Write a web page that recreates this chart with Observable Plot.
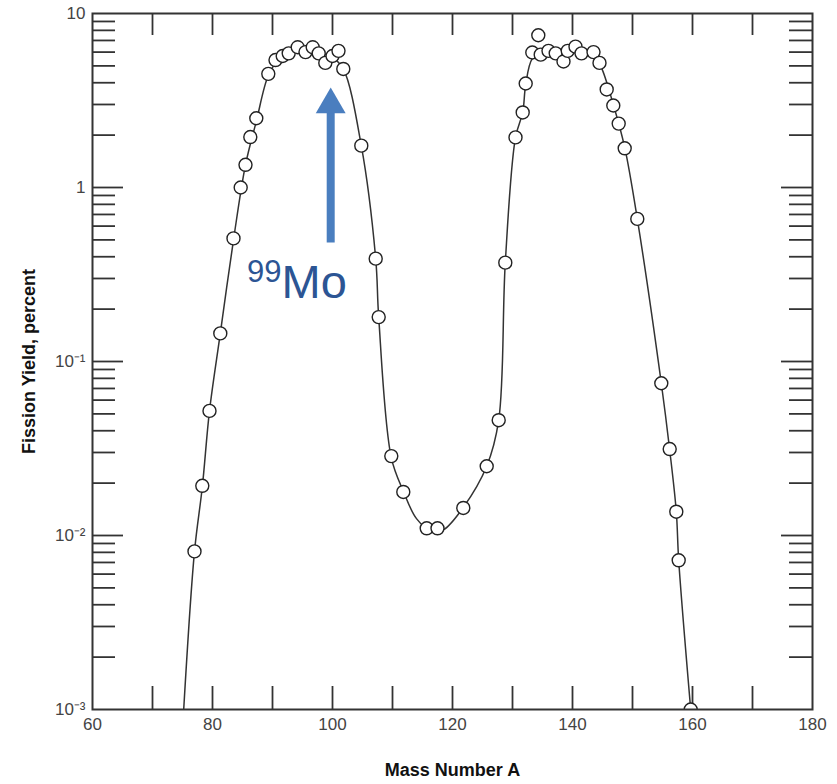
<!DOCTYPE html>
<html><head><meta charset="utf-8">
<script src="https://cdn.jsdelivr.net/npm/d3@7"></script>
<script src="https://cdn.jsdelivr.net/npm/@observablehq/plot@0.6"></script>
<style>html,body{margin:0;padding:0;background:#fff;} svg{display:block;}</style>
</head><body><div id="chart"></div>
<script>
// Measured fission yield points (mass number A, yield in percent)
const massNumber = [77.0, 78.3, 79.5, 81.3, 83.5, 84.7, 85.5, 86.3, 87.3, 89.3, 90.5, 91.7, 92.7, 94.2, 95.5, 96.7, 97.7, 98.8, 100.0, 101.0, 101.8, 104.8, 107.2, 107.7, 109.8, 111.8, 115.7, 117.5, 121.8, 125.7, 127.7, 128.8, 130.5, 131.7, 132.2, 133.3, 134.3, 134.7, 136.0, 137.2, 138.5, 139.2, 140.5, 141.5, 143.5, 144.5, 145.7, 146.8, 147.7, 148.7, 150.8, 154.8, 156.2, 157.3, 157.7, 159.7];
const yieldPct = [0.0081, 0.0193, 0.052, 0.145, 0.51, 1.0, 1.35, 1.95, 2.5, 4.5, 5.4, 5.7, 5.9, 6.4, 6.0, 6.4, 5.9, 5.2, 5.7, 6.1, 4.8, 1.74, 0.39, 0.18, 0.0286, 0.0178, 0.011, 0.011, 0.0144, 0.025, 0.046, 0.37, 1.94, 2.7, 3.96, 5.97, 7.5, 5.8, 6.1, 5.9, 5.3, 6.1, 6.45, 5.9, 6.0, 5.2, 3.66, 2.96, 2.33, 1.68, 0.66, 0.075, 0.0314, 0.0137, 0.0072, 0.001];

// Smooth fitted curve
const curveA = [75.2, 77.0, 78.3, 79.5, 81.3, 83.5, 85.5, 87.3, 89.3, 91.0, 93.0, 95.5, 98.0, 100.0, 101.8, 104.8, 107.2, 107.7, 109.8, 111.8, 114.0, 116.5, 118.5, 121.8, 125.7, 127.7, 128.8, 130.5, 131.7, 132.2, 133.3, 135.0, 138.0, 141.0, 143.5, 144.8, 146.8, 148.7, 150.8, 154.8, 156.2, 157.3, 157.7, 159.7];
const curveYield = [0.001, 0.0081, 0.019, 0.052, 0.145, 0.5, 1.35, 2.4, 4.4, 5.4, 5.95, 6.1, 5.95, 5.6, 4.8, 1.74, 0.39, 0.18, 0.028, 0.018, 0.0125, 0.0106, 0.0108, 0.0145, 0.025, 0.046, 0.37, 1.94, 2.7, 3.9, 5.5, 6.0, 5.9, 6.05, 5.8, 4.9, 3.0, 1.7, 0.66, 0.075, 0.031, 0.0137, 0.0072, 0.001];

// Axis ticks and labels
const xTickValues = [60, 80, 100, 120, 140, 160, 180];
const xInnerTicks = [70, 80, 90, 100, 110, 120, 130, 140, 150, 160, 170];
const yTickValues = [10, 1, 0.1, 0.01, 0.001];
const yTickLabels = ["10", "1", "10\u207B\u00B9", "10\u207B\u00B2", "10\u207B\u00B3"];
const yMajorTicks = [1, 0.1, 0.01];
const yDecades = [0.001, 0.01, 0.1, 1];
const yMinorMultipliers = [2, 3, 4, 5, 6, 7, 8, 9];
const xTitle = "Mass Number A";
const yTitle = "Fission Yield, percent";

// Annotation (arrow to 99Mo)
const annotIsotope = "99";
const annotElement = "Mo";
const arrowA = [99.7];
const arrowFrom = [0.483];
const arrowTo = [2.84];
const arrowHeadY = [2.99];
const labelA = [91.5];
const labelElementY = [0.284];
const labelIsotopeY = [0.325];

const points = massNumber.map((a, i) => ({a, y: yieldPct[i]}));
const curve = curveA.map((a, i) => ({a, y: curveYield[i]}));
const yMinorTicks = yDecades.flatMap(d => yMinorMultipliers.map(m => d * m));
const yLabelMap = new Map(yTickValues.map((v, i) => [v, yTickLabels[i]]));

const W = 837, H = 784, ML = 92, MR = 25, MT = 13, MB = 75;
const FW = W - ML - MR, FH = H - MT - MB;
const ink = "#333";
const blue = "#4a7ebf";
const blueText = "#2c5594";

const chart = Plot.plot({
  width: W, height: H,
  marginLeft: ML, marginRight: MR, marginTop: MT, marginBottom: MB,
  x: {domain: [60, 180]},
  y: {type: "log", domain: [0.001, 10]},
  style: {fontFamily: "'Liberation Sans', Arial, Helvetica, sans-serif", background: "white"},
  marks: [
    Plot.tickY(yMajorTicks, {y: d => d, insetRight: FW - 31, stroke: ink, strokeWidth: 1.8}),
    Plot.tickY(yMajorTicks, {y: d => d, insetLeft: FW - 31, stroke: ink, strokeWidth: 1.8}),
    Plot.tickY(yMinorTicks, {y: d => d, insetRight: FW - 23, stroke: ink, strokeWidth: 1.8}),
    Plot.tickY(yMinorTicks, {y: d => d, insetLeft: FW - 23, stroke: ink, strokeWidth: 1.8}),
    Plot.tickX(xInnerTicks, {x: d => d, insetTop: FH - 23, stroke: ink, strokeWidth: 1.8}),
    Plot.tickX(xInnerTicks, {x: d => d, insetBottom: FH - 22, stroke: ink, strokeWidth: 1.8}),
    Plot.line(curve, {x: "a", y: "y", curve: "catmull-rom", stroke: ink, strokeWidth: 1.5, clip: true}),
    Plot.dot(points, {x: "a", y: "y", r: 6.5, fill: "white", stroke: "#222", strokeWidth: 1.4, clip: true}),
    Plot.frame({stroke: ink, strokeWidth: 2}),
    Plot.axisY(yTickValues, {anchor: "left", tickSize: 0, tickPadding: 7, tickFormat: d => yLabelMap.get(d), fontSize: 17, fill: "#444", label: null}),
    Plot.axisX(xTickValues, {anchor: "bottom", tickSize: 0, tickPadding: 8, tickFormat: d => String(d), fontSize: 17, fill: "#444", label: null}),
    Plot.text([xTitle], {frameAnchor: "bottom", dy: 66, textAnchor: "middle", fontWeight: "bold", fontSize: 18, fill: "#111"}),
    Plot.text([yTitle], {frameAnchor: "left", dx: -63, textAnchor: "middle", rotate: -90, fontWeight: "bold", fontSize: 18, fill: "#111"}),
    Plot.link(arrowA, {x1: d => d, x2: d => d, y1: (d, i) => arrowFrom[i], y2: (d, i) => arrowTo[i], stroke: blue, strokeWidth: 8}),
    Plot.dot(arrowA, {x: d => d, y: (d, i) => arrowHeadY[i], symbol: "triangle", r: 11.1, fill: blue, stroke: null}),
    Plot.text(labelA, {x: d => d, y: (d, i) => labelIsotopeY[i], text: () => annotIsotope, textAnchor: "end", fontSize: 31, fill: blueText}),
    Plot.text(labelA, {x: d => d, y: (d, i) => labelElementY[i], text: () => annotElement, textAnchor: "start", fontSize: 47, fill: blueText})
  ]
});
document.getElementById("chart").append(chart);
</script>
</body></html>
